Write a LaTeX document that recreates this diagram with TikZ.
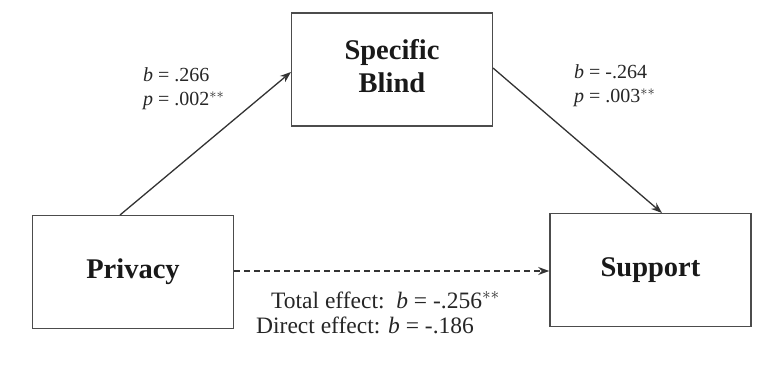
\documentclass[tikz,border=0pt]{standalone}
\usepackage{fontspec}
\setmainfont{Liberation Serif}
\usetikzlibrary{arrows.meta}
\begin{document}
\begin{tikzpicture}[x=1pt,y=-1pt,
  varbox/.style={draw=black!70,line width=1.6pt,minimum width=201pt,minimum height=113pt,inner sep=0pt,align=center,font=\fontsize{28.5}{33}\selectfont\bfseries,text=black!90},
  conn/.style={draw=black!80,line width=1.3pt,-{Stealth[length=11pt,width=8pt]}},
  lab/.style={anchor=west,inner sep=0pt,font=\fontsize{20}{22}\selectfont,text=black!85},
  blab/.style={anchor=west,inner sep=0pt,font=\fontsize{23.5}{26}\selectfont,text=black!85}]
\useasboundingbox (0,0) rectangle (757,371);
\node[varbox] (med) at (392,69.5) {Specific\\Blind\rule[-8pt]{0pt}{0pt}};
\node[varbox] (x) at (133,272) {Privacy};
\node[varbox] (y) at (650.5,270) {Support};
\coordinate (xtop) at (120,215);
\coordinate (medl) at (291,72);
\coordinate (medr) at (493,68);
\coordinate (ytop) at (662,213);
\draw[conn] (xtop) -- (medl);
\draw[conn] (medr) -- (ytop);
\draw[conn,dashed,dash pattern=on 6pt off 4pt] (x.east |- 0,271) -- (y.west |- 0,271);
\node[lab] (b1) at (143,75) {\textit{b} = .266};
\node[lab] (p1) at (143,101) {\textit{p} = .002$^{**}$};
\node[lab] (b2) at (574,72) {\textit{b} = -.264};
\node[lab] (p2) at (574,98) {\textit{p} = .003$^{**}$};
\node[blab] (te) at (271,300) {Total effect: \,\textit{b} = -.256$^{**}$};
\node[blab] (de) at (256,325) {Direct effect: \textit{b} = -.186};
\end{tikzpicture}
\end{document}
